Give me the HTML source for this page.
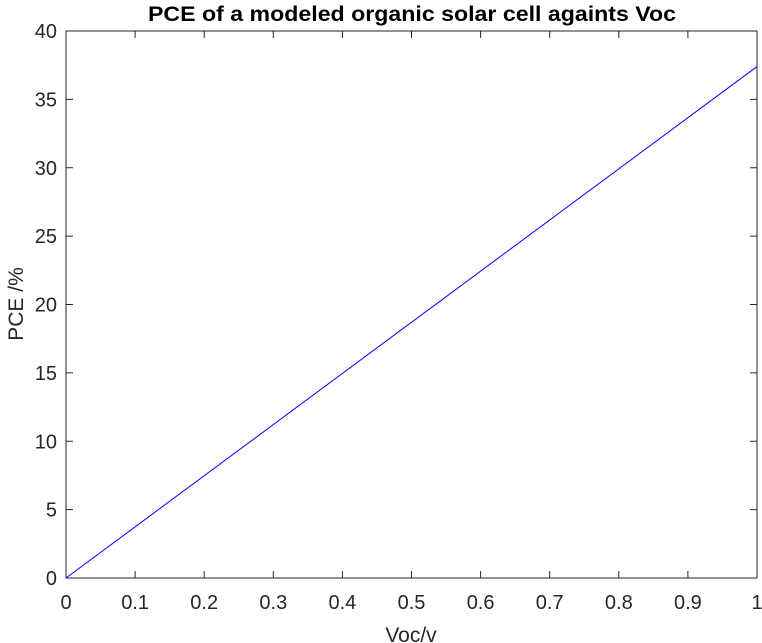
<!DOCTYPE html>
<html><head><meta charset="utf-8"><style>
body{margin:0;background:#fff;}
svg{display:block;font-family:"Liberation Sans",Arial,sans-serif;}
</style></head><body>
<svg id="chart" width="762" height="643" viewBox="0 0 762 643" xmlns="http://www.w3.org/2000/svg">
<text x="412" y="21" text-anchor="middle" font-size="21" font-weight="bold" fill="#000" textLength="528" lengthAdjust="spacingAndGlyphs">PCE of a modeled organic solar cell againts Voc</text>
<g id="axes"></g>
<text x="411" y="642" text-anchor="middle" font-size="21" fill="#262626">Voc/v</text>
<text transform="translate(23,304) rotate(-90)" text-anchor="middle" font-size="21" fill="#262626">PCE /%</text>
</svg>
<script>
const xTicks=[0,0.1,0.2,0.3,0.4,0.5,0.6,0.7,0.8,0.9,1];
const xTickLabels=["0","0.1","0.2","0.3","0.4","0.5","0.6","0.7","0.8","0.9","1"];
const yTicks=[0,5,10,15,20,25,30,35,40];
const yTickLabels=["0","5","10","15","20","25","30","35","40"];
const voc=[0,1];
const pce=[0,37.4];
const L=66,R=757,T=31,B=578;
const sx=v=>L+(v-0)/(1-0)*(R-L);
const sy=v=>B-(v-0)/(40-0)*(B-T);
const NS="http://www.w3.org/2000/svg";
const g=document.getElementById('axes');
function mk(tag,attrs){const e=document.createElementNS(NS,tag);for(const k in attrs)e.setAttribute(k,attrs[k]);g.appendChild(e);return e;}
const box=mk('rect',{x:L,y:T,width:R-L,height:B-T,fill:'none',stroke:'#262626','stroke-width':1});


xTicks.forEach((v,i)=>{
  const x=sx(v);
  const t1=mk('line',{x1:x,x2:x,y1:B,y2:B-7,stroke:'#262626'});
  
  
  const t2=mk('line',{x1:x,x2:x,y1:T,y2:T+7,stroke:'#262626'});
  
  
  const tx=mk('text',{x:x,y:B+31,'text-anchor':'middle','font-size':20,fill:'#262626'});
  tx.textContent=xTickLabels[i];
  
  
});
yTicks.forEach((v,i)=>{
  const y=sy(v);
  const t1=mk('line',{x1:L,x2:L+7,y1:y,y2:y,stroke:'#262626'});
  
  
  const t2=mk('line',{x1:R,x2:R-7,y1:y,y2:y,stroke:'#262626'});
  
  
  const tx=mk('text',{x:L-9,y:y+7,'text-anchor':'end','font-size':20,fill:'#262626'});
  tx.textContent=yTickLabels[i];
  
  
});
const pts=voc.map((v,i)=>sx(v)+','+sy(pce[i])).join(' ');
const line=mk('polyline',{points:pts,fill:'none',stroke:'#0000ff','stroke-width':1});


</script>
</body></html>
